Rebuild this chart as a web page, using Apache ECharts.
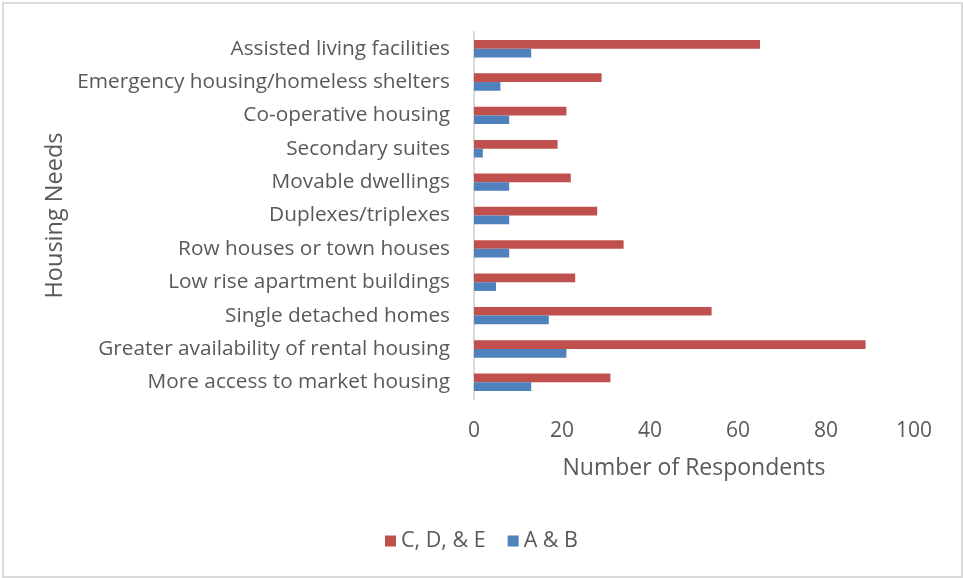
<!DOCTYPE html>
<html>
<head>
<meta charset="utf-8">
<script src="https://cdn.jsdelivr.net/npm/echarts@6/dist/echarts.min.js"></script>
<style>
  html, body { margin: 0; padding: 0; background: #ffffff; }
  #chart { position: absolute; left: 0; top: 0; width: 963px; height: 578px; }
  #frame { position: absolute; left: 2px; top: 2px; width: 957px; height: 572px; border: 2px solid #dadada; pointer-events: none; }
</style>
</head>
<body>
<div id="chart"></div>
<div id="frame"></div>
<script>
// Housing needs, listed bottom to top
const categories = [
  'More access to market housing',
  'Greater availability of rental housing',
  'Single detached homes',
  'Low rise apartment buildings',
  'Row houses or town houses',
  'Duplexes/triplexes',
  'Movable dwellings',
  'Secondary suites',
  'Co-operative housing',
  'Emergency housing/homeless shelters',
  'Assisted living facilities'
];
const groupCDE = [31, 89, 54, 23, 34, 28, 22, 19, 21, 29, 65];
const groupAB = [13, 21, 17, 5, 8, 8, 8, 2, 8, 6, 13];
const seriesNames = ['C, D, & E', 'A & B'];
const xTicks = { min: 0, max: 100, interval: 20 };

const FONT = 'Open Sans';
const TEXT = '#595959';

const chart = echarts.init(document.getElementById('chart'), null, { renderer: 'canvas' });
chart.setOption({
  animation: false,
  backgroundColor: '#ffffff',
  textStyle: { fontFamily: FONT, color: TEXT },
  grid: { left: 474, right: 49, top: 32, bottom: 179, containLabel: false },
  legend: {
    data: seriesNames,
    bottom: 21,
    left: 'center',
    itemWidth: 11,
    itemHeight: 11,
    itemGap: 22,
    icon: 'rect',
    textStyle: { fontFamily: FONT, fontSize: 21.5, color: TEXT }
  },
  xAxis: {
    type: 'value',
    min: xTicks.min,
    max: xTicks.max,
    interval: xTicks.interval,
    name: 'Number of Respondents',
    nameLocation: 'middle',
    nameGap: 58,
    nameTextStyle: { fontFamily: FONT, fontSize: 23, color: TEXT },
    axisLine: { show: false },
    axisTick: { show: false },
    splitLine: { show: false },
    axisLabel: { margin: 22, fontSize: 21, color: TEXT, fontFamily: FONT }
  },
  yAxis: {
    type: 'category',
    data: categories,
    name: 'Housing Needs',
    nameLocation: 'middle',
    nameGap: 407,
    nameRotate: 90,
    nameTextStyle: { fontFamily: FONT, fontSize: 23.5, color: TEXT },
    axisLine: { show: true, lineStyle: { color: '#d9d9d9', width: 2 } },
    axisTick: { show: false },
    axisLabel: { margin: 24, fontSize: 20.8, color: TEXT, fontFamily: FONT }
  },
  series: [
    {
      name: seriesNames[0],
      type: 'bar',
      data: groupCDE,
      barWidth: 8.7,
      barGap: '0%',
      itemStyle: { color: '#c0504d' }
    },
    {
      name: seriesNames[1],
      type: 'bar',
      data: groupAB,
      barWidth: 8.7,
      barGap: '0%',
      itemStyle: { color: '#4f81bd' }
    }
  ]
});
</script>
</body>
</html>
